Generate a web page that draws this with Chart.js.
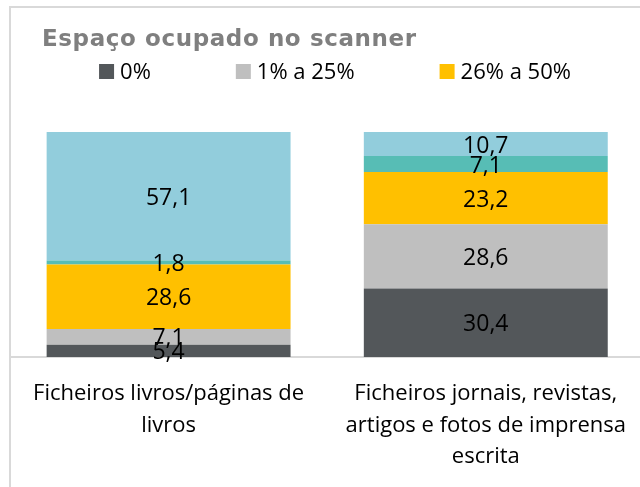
<!DOCTYPE html>
<html>
<head>
<meta charset="utf-8">
<script src="https://cdn.jsdelivr.net/npm/chart.js@4"></script>
<style>
  html, body { margin: 0; padding: 0; width: 640px; height: 487px; overflow: hidden; background: #fff; }
  #frame { position: absolute; left: 9px; top: 6px; width: 1000px; height: 1000px;
           border-left: 2px solid #d9d9d9; border-top: 2px solid #d9d9d9; }
  #wrap { position: absolute; left: 0; top: 0; width: 647px; height: 487px; }
</style>
</head>
<body>
<div id="frame"></div>
<div id="wrap"><canvas id="c"></canvas></div>
<script>
// ---- data ----
const titleText = "Espaço ocupado no scanner";
const categories = [
  ["Ficheiros livros/páginas de", "livros"],
  ["Ficheiros jornais, revistas,", "artigos e fotos de imprensa", "escrita"]
];
const seriesNames = ["0%", "1% a 25%", "26% a 50%", "51% a 75%", "76% a 100%"];
const s0   = [5.4, 30.4];
const s1   = [7.1, 28.6];
const s26  = [28.6, 23.2];
const s51  = [1.8, 7.1];
const s76  = [57.1, 10.7];
const seriesColors = ["#53575a", "#bfbfbf", "#ffc000", "#57bdb5", "#92cddc"];
const legendShown = 3; // only the first three entries are visible in the reference

const seriesValues = [s0, s1, s26, s51, s76];

const labelPlugin = {
  id: 'valueLabels',
  afterDatasetsDraw(chart) {
    const ctx = chart.ctx;
    ctx.save();
    ctx.font = '23px "Open Sans"';
    ctx.fillStyle = '#000';
    ctx.textAlign = 'center';
    ctx.textBaseline = 'middle';
    chart.data.datasets.forEach((ds, di) => {
      const meta = chart.getDatasetMeta(di);
      meta.data.forEach((bar, i) => {
        const v = ds.data[i];
        const y = (bar.y + bar.base) / 2 + 2;
        ctx.fillText(v.toFixed(1).replace('.', ','), bar.x, y);
      });
    });
    ctx.restore();
  }
};

const headerPlugin = {
  id: 'header',
  afterDraw(chart) {
    const ctx = chart.ctx;
    ctx.save();
    // title
    ctx.font = 'bold 23px "DejaVu Sans"';
    if ('letterSpacing' in ctx) ctx.letterSpacing = '0.6px';
    ctx.fillStyle = '#7f7f7f';
    ctx.textAlign = 'left';
    ctx.textBaseline = 'alphabetic';
    ctx.fillText(titleText, 42, 46);
    if ('letterSpacing' in ctx) ctx.letterSpacing = '0px';
    // legend
    ctx.font = '22px "Open Sans"';
    const box = 15, boxGap = 6, itemGap = 85;
    const items = seriesNames.slice(0, legendShown);
    const widths = items.map(t => box + boxGap + ctx.measureText(t).width);
    const total = widths.reduce((a, b) => a + b, 0) + itemGap * (items.length - 1);
    let x = 335 - total / 2;
    items.forEach((t, i) => {
      ctx.fillStyle = seriesColors[i];
      ctx.fillRect(x, 64, box, box);
      ctx.fillStyle = '#000';
      ctx.fillText(t, x + box + boxGap, 79);
      x += widths[i] + itemGap;
    });
    ctx.restore();
  }
};

new Chart(document.getElementById('c'), {
  type: 'bar',
  data: {
    labels: categories,
    datasets: seriesNames.map((name, i) => ({
      label: name,
      data: seriesValues[i],
      backgroundColor: seriesColors[i],
      borderWidth: 0,
      categoryPercentage: 0.769,
      barPercentage: 1
    }))
  },
  options: {
    responsive: true,
    maintainAspectRatio: false,
    animation: false,
    layout: { padding: { left: 10, right: 0, top: 132, bottom: 0 } },
    plugins: {
      legend: { display: false },
      title: { display: false },
      tooltip: { enabled: false }
    },
    scales: {
      x: {
        stacked: true,
        grid: { display: false, drawTicks: false },
        border: { display: true, color: '#d9d9d9', width: 2 },
        ticks: {
          color: '#000',
          font: { family: '"Open Sans"', size: 22, lineHeight: '31.5px' },
          padding: 21,
          maxRotation: 0,
          autoSkip: false
        },
        afterFit(scale) { scale.height = 130; }
      },
      y: {
        stacked: true,
        display: false,
        min: 0,
        max: 100
      }
    }
  },
  plugins: [labelPlugin, headerPlugin]
});
</script>
</body>
</html>
